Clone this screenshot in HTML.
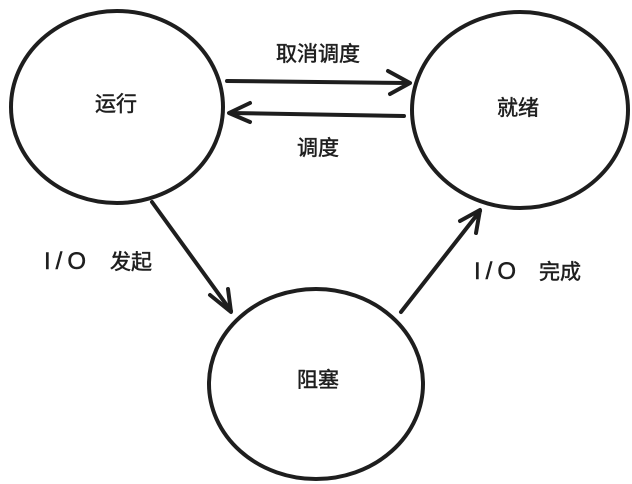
<!DOCTYPE html>
<html><head><meta charset="utf-8"><style>
html,body{margin:0;padding:0;background:#fff;}
svg{display:block;}
text{font-family:"Liberation Sans","Noto Sans CJK SC",sans-serif;font-size:21px;fill:#1e1e1e;stroke:#1e1e1e;stroke-width:0.5;}
</style></head><body>
<svg width="632" height="484" viewBox="0 0 632 484" xmlns="http://www.w3.org/2000/svg">
<g fill="none" stroke="#1e1e1e" stroke-width="4" stroke-linecap="round" stroke-linejoin="round">
<ellipse cx="117" cy="107" rx="106" ry="96"/>
<ellipse cx="520" cy="110" rx="108" ry="98"/>
<ellipse cx="316" cy="384" rx="107" ry="95"/>
<path d="M227 81 L409 83"/>
<path d="M388 71 L410 83 L390 94"/>
<path d="M404 116 L230 113"/>
<path d="M250 103 L229 113 L250 122"/>
<path d="M152 202 L231 311"/>
<path d="M210 295 L231 312 L228 289"/>
<path d="M401 312 L480 211"/>
<path d="M460 221 L480 210 L476 233"/>
</g>
<text x="318" y="61" text-anchor="middle">取消调度</text>
<text x="318" y="155" text-anchor="middle">调度</text>
<text x="116" y="111" text-anchor="middle">运行</text>
<text x="518" y="115" text-anchor="middle">就绪</text>
<text x="318" y="387" text-anchor="middle">阻塞</text>
<text x="44" y="269"><tspan font-size="24" letter-spacing="5">I/O</tspan><tspan x="110">发起</tspan></text>
<text x="474" y="279"><tspan font-size="24" letter-spacing="5">I/O</tspan><tspan x="539">完成</tspan></text>
</svg>
</body></html>
